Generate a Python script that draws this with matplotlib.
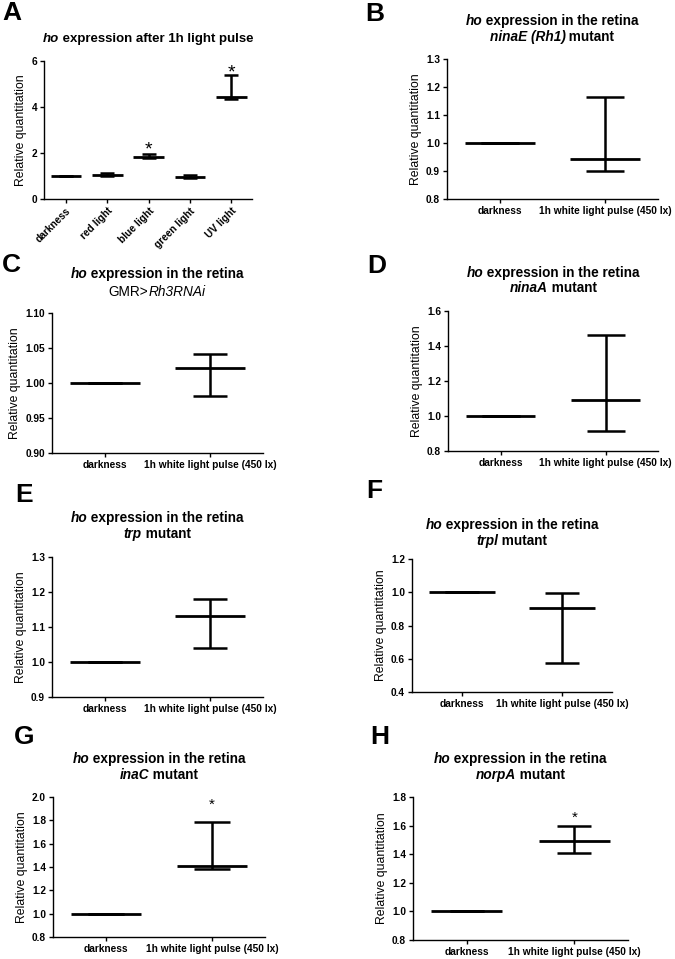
import matplotlib
matplotlib.use("Agg")
import matplotlib.pyplot as plt

plt.rcParams['font.family'] = ['Liberation Sans', 'DejaVu Sans']

W, H = 675, 959

# panel A: light colours
a_cats = ["darkness", "red light", "blue light", "green light", "UV light"]
a_mean = [1.0, 1.04, 1.84, 0.94, 4.42]
a_low = [1.0, 0.98, 1.77, 0.91, 4.33]
a_high = [1.0, 1.11, 1.96, 1.03, 5.40]
a_star = [None, None, 1.94, None, 5.29]

# panels B-H: darkness vs white light pulse
pulse_cats = ["darkness", "1h white light pulse (450 lx)"]
b_mean, b_low, b_high = [1.0, 0.942], [1.0, 0.900], [1.0, 1.165]
c_mean, c_low, c_high = [1.0, 1.022], [1.0, 0.981], [1.0, 1.041]
d_mean, d_low, d_high = [1.0, 1.091], [1.0, 0.914], [1.0, 1.465]
e_mean, e_low, e_high = [1.0, 1.131], [1.0, 1.039], [1.0, 1.180]
f_mean, f_low, f_high = [1.0, 0.903], [1.0, 0.576], [1.0, 0.994]
g_mean, g_low, g_high = [1.0, 1.411], [1.0, 1.383], [1.0, 1.783]
h_mean, h_low, h_high = [1.0, 1.492], [1.0, 1.406], [1.0, 1.597]
g_star = [None, 1.898]
h_star = [None, 1.63]

fig = plt.figure(figsize=(W / 100, H / 100), dpi=100)
renderer = fig.canvas.get_renderer()


def add_axes(left, right, top, bottom):
    return fig.add_axes([left / W, 1 - bottom / H, (right - left) / W, (bottom - top) / H])


def pieces_text(pieces, cx, cy, size=9.8):
    # pieces: list of (text, style, weight), centred at pixel (cx, cy)
    texts = []
    for s, st, wt in pieces:
        t = fig.text(0, 1 - cy / H, s, fontsize=size, fontstyle=st, fontweight=wt,
                     va='center', ha='left')
        texts.append(t)
    widths = [t.get_window_extent(renderer).width for t in texts]
    x = cx - sum(widths) / 2
    for t, w in zip(texts, widths):
        t.set_x(x / W)
        x += w


def draw_panel(ax, cats, mean, low, high, ylim, yticks, fmt, half=0.33, cap=12.5,
               star=None, star_size=11, rotate=False):
    x = list(range(len(cats)))
    err = [[m - l for m, l in zip(mean, low)], [h - m for m, h in zip(mean, high)]]
    ax.errorbar(x, mean, yerr=err, fmt='none', ecolor='black', elinewidth=1.8,
                capsize=cap, capthick=1.8)
    ax.hlines(mean, [i - half for i in x], [i + half for i in x], color='black', lw=2.0)
    if star is not None:
        for i, s in zip(x, star):
            if s is not None:
                ax.text(i, s, '*', ha='center', va='baseline', fontsize=star_size)
    ax.set_xlim(-0.5 if not rotate else -0.53, len(cats) - 0.5)
    ax.set_ylim(*ylim)
    ax.set_yticks(yticks, labels=[fmt.format(v) for v in yticks], fontweight='bold')
    if rotate:
        ax.set_xticks(x, labels=cats, fontweight='bold', rotation=45, ha='right',
                      rotation_mode='anchor')
    else:
        ax.set_xticks(x, labels=cats, fontweight='bold')
    ax.spines['top'].set_visible(False)
    ax.spines['right'].set_visible(False)
    for sp in ['left', 'bottom']:
        ax.spines[sp].set_linewidth(1.0)
    ax.tick_params(direction='out', length=3, width=1, labelsize=7.3, pad=2)
    ax.set_ylabel("Relative quantitation", fontsize=8.8, labelpad=3)


axA = add_axes(44, 252, 61, 199)
draw_panel(axA, a_cats, a_mean, a_low, a_high, (0, 6), [0, 2, 4, 6], "{:.0f}",
           half=0.37, cap=5, star=a_star, star_size=14, rotate=True)
axB = add_axes(447, 658, 59, 199)
draw_panel(axB, pulse_cats, b_mean, b_low, b_high, (0.8, 1.3),
           [0.8, 0.9, 1.0, 1.1, 1.2, 1.3], "{:.1f}", cap=14)
axC = add_axes(52, 263, 313, 453)
draw_panel(axC, pulse_cats, c_mean, c_low, c_high, (0.9, 1.1),
           [0.90, 0.95, 1.00, 1.05, 1.10], "{:.2f}")
axD = add_axes(448, 658, 311, 451)
draw_panel(axD, pulse_cats, d_mean, d_low, d_high, (0.8, 1.6),
           [0.8, 1.0, 1.2, 1.4, 1.6], "{:.1f}", cap=13.5)
axE = add_axes(52, 263, 557, 697)
draw_panel(axE, pulse_cats, e_mean, e_low, e_high, (0.9, 1.3),
           [0.9, 1.0, 1.1, 1.2, 1.3], "{:.1f}", cap=12)
axF = add_axes(412, 612, 559, 692)
draw_panel(axF, pulse_cats, f_mean, f_low, f_high, (0.4, 1.2),
           [0.4, 0.6, 0.8, 1.0, 1.2], "{:.1f}", cap=12)
axG = add_axes(53, 265, 797, 937)
draw_panel(axG, pulse_cats, g_mean, g_low, g_high, (0.8, 2.0),
           [0.8, 1.0, 1.2, 1.4, 1.6, 1.8, 2.0], "{:.1f}", cap=13, star=g_star)
axH = add_axes(413, 628, 797, 940)
draw_panel(axH, pulse_cats, h_mean, h_low, h_high, (0.8, 1.8),
           [0.8, 1.0, 1.2, 1.4, 1.6, 1.8], "{:.1f}", cap=12.5, star=h_star)

# titles
HO = [("ho", 'italic', 'bold'), (" expression in the retina", 'normal', 'bold')]
pieces_text([("ho", 'italic', 'bold'), (" expression after 1h light pulse", 'normal', 'bold')],
            148, 39, size=9.5)
pieces_text(HO, 552, 21)
pieces_text([("ninaE (Rh1)", 'italic', 'bold'), (" mutant", 'normal', 'bold')], 552, 37)
pieces_text(HO, 157, 274)
pieces_text([("GMR>", 'normal', 'normal'), ("Rh3RNAi", 'italic', 'normal')], 157, 292)
pieces_text(HO, 553, 273)
pieces_text([("ninaA", 'italic', 'bold'), (" mutant", 'normal', 'bold')], 553, 288)
pieces_text(HO, 157, 518)
pieces_text([("trp", 'italic', 'bold'), (" mutant", 'normal', 'bold')], 157, 534)
pieces_text(HO, 512, 525)
pieces_text([("trpl", 'italic', 'bold'), (" mutant", 'normal', 'bold')], 512, 541)
pieces_text(HO, 159, 759)
pieces_text([("inaC", 'italic', 'bold'), (" mutant", 'normal', 'bold')], 159, 775)
pieces_text(HO, 520, 759)
pieces_text([("norpA", 'italic', 'bold'), (" mutant", 'normal', 'bold')], 520, 775)

# panel letters
letters = ["A", "B", "C", "D", "E", "F", "G", "H"]
letter_px = [(12, 13), (375, 14), (11, 265), (377, 266), (24, 495), (374, 491), (24, 737), (380, 737)]
for lab, (lx, ly) in zip(letters, letter_px):
    fig.text(lx / W, 1 - ly / H, lab, fontsize=19, fontweight='bold', ha='center', va='center')

fig.savefig("out.png", dpi=100)
